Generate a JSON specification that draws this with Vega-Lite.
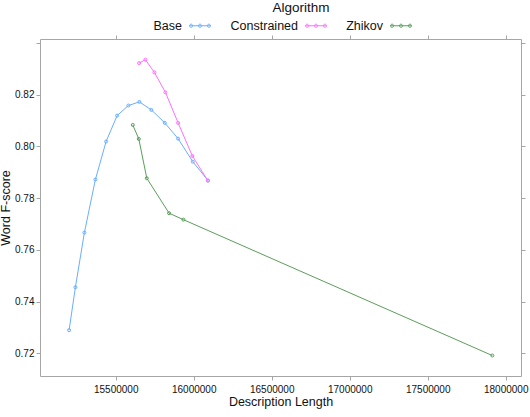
{
  "$schema": "https://vega.github.io/schema/vega-lite/v6.json",
  "width": 481,
  "height": 337,
  "autosize": "none",
  "padding": {"left": 40, "top": 39, "right": 9, "bottom": 41},
  "config": {
    "font": "Liberation Sans",
    "view": {"stroke": "#a6a6a6", "strokeWidth": 1},
    "axis": {
      "domain": false, "grid": false, "tickColor": "#a6a6a6", "tickSize": 4,
      "labelFontSize": 10, "labelColor": "#111", "labelFont": "Liberation Sans",
      "titleFontSize": 12.5, "titleFontWeight": "normal", "titleColor": "#111", "titleFont": "Liberation Sans"
    }
  },
  "data": {"values": [
    {"alg": "Base", "dl": 15201300, "f": 0.7290},
    {"alg": "Base", "dl": 15241700, "f": 0.7456},
    {"alg": "Base", "dl": 15299400, "f": 0.7667},
    {"alg": "Base", "dl": 15369900, "f": 0.7872},
    {"alg": "Base", "dl": 15438500, "f": 0.8019},
    {"alg": "Base", "dl": 15509000, "f": 0.8119},
    {"alg": "Base", "dl": 15581400, "f": 0.8158},
    {"alg": "Base", "dl": 15651900, "f": 0.8172},
    {"alg": "Base", "dl": 15728800, "f": 0.8141},
    {"alg": "Base", "dl": 15814700, "f": 0.8091},
    {"alg": "Base", "dl": 15900000, "f": 0.8030},
    {"alg": "Base", "dl": 15994200, "f": 0.7941},
    {"alg": "Base", "dl": 16092300, "f": 0.7868},
    {"alg": "Constrained", "dl": 15650000, "f": 0.8322},
    {"alg": "Constrained", "dl": 15690400, "f": 0.8335},
    {"alg": "Constrained", "dl": 15748100, "f": 0.8286},
    {"alg": "Constrained", "dl": 15818600, "f": 0.8209},
    {"alg": "Constrained", "dl": 15900000, "f": 0.8091},
    {"alg": "Constrained", "dl": 15991600, "f": 0.7963},
    {"alg": "Constrained", "dl": 16090400, "f": 0.7868},
    {"alg": "Zhikov", "dl": 15609600, "f": 0.8083},
    {"alg": "Zhikov", "dl": 15648100, "f": 0.8029},
    {"alg": "Zhikov", "dl": 15699400, "f": 0.7877},
    {"alg": "Zhikov", "dl": 15842300, "f": 0.7742},
    {"alg": "Zhikov", "dl": 15934000, "f": 0.7717},
    {"alg": "Zhikov", "dl": 17914600, "f": 0.7192}
  ]},
  "layer": [
    {
      "mark": {"type": "line", "strokeWidth": 1, "point": {"filled": false, "size": 9, "strokeWidth": 1}},
      "encoding": {
        "x": {"field": "dl", "type": "quantitative", "scale": {"domain": [15014800, 18098000], "nice": false, "zero": false},
              "axis": {"orient": "bottom", "values": [15500000, 16000000, 16500000, 17000000, 17500000, 18000000], "format": "d", "labelPadding": 4, "titlePadding": 1, "title": "Description Length"}},
        "y": {"field": "f", "type": "quantitative", "scale": {"domain": [0.7113, 0.8415], "nice": false, "zero": false},
              "axis": {"orient": "left", "values": [0.72, 0.74, 0.76, 0.78, 0.80, 0.82, 0.84], "labelExpr": "datum.value > 0.839 ? '' : format(datum.value, '.2f')", "labelPadding": 2, "titlePadding": 2, "title": "Word F-score"}},
        "color": {"field": "alg", "type": "nominal",
          "scale": {"domain": ["Base", "Constrained", "Zhikov"], "range": ["#6aaeff", "#ff70ff", "#5a9e5a"]},
          "legend": {
            "orient": "none", "legendX": 149, "legendY": -38, "direction": "horizontal",
            "title": "Algorithm", "titleAnchor": "middle", "titleFontSize": 13.5, "titleFontWeight": "normal", "titleColor": "#111", "titlePadding": 0,
            "labelFontSize": 12.5, "labelColor": "#111", "labelAlign": "right", "labelOffset": -29,
            "symbolType": "M-1,0H1M-1,0A0.15,0.15 0 1,0 -0.7,0A0.15,0.15 0 1,0 -1,0M-0.15,0A0.15,0.15 0 1,0 0.15,0A0.15,0.15 0 1,0 -0.15,0M0.7,0A0.15,0.15 0 1,0 1,0A0.15,0.15 0 1,0 0.7,0",
            "symbolSize": 441, "symbolStrokeWidth": 1, "symbolFillColor": "transparent", "columnPadding": 17
          }}
      }
    },
    {
      "mark": {"type": "point", "opacity": 0},
      "encoding": {
        "x": {"field": "dl", "type": "quantitative", "axis": {"orient": "top", "values": [15500000, 16000000, 16500000, 17000000, 17500000, 18000000], "labels": false, "title": null}},
        "y": {"field": "f", "type": "quantitative", "axis": {"orient": "right", "values": [0.72, 0.74, 0.76, 0.78, 0.80, 0.82, 0.84], "labels": false, "title": null}}
      }
    }
  ],
  "resolve": {"axis": {"x": "independent", "y": "independent"}}
}
